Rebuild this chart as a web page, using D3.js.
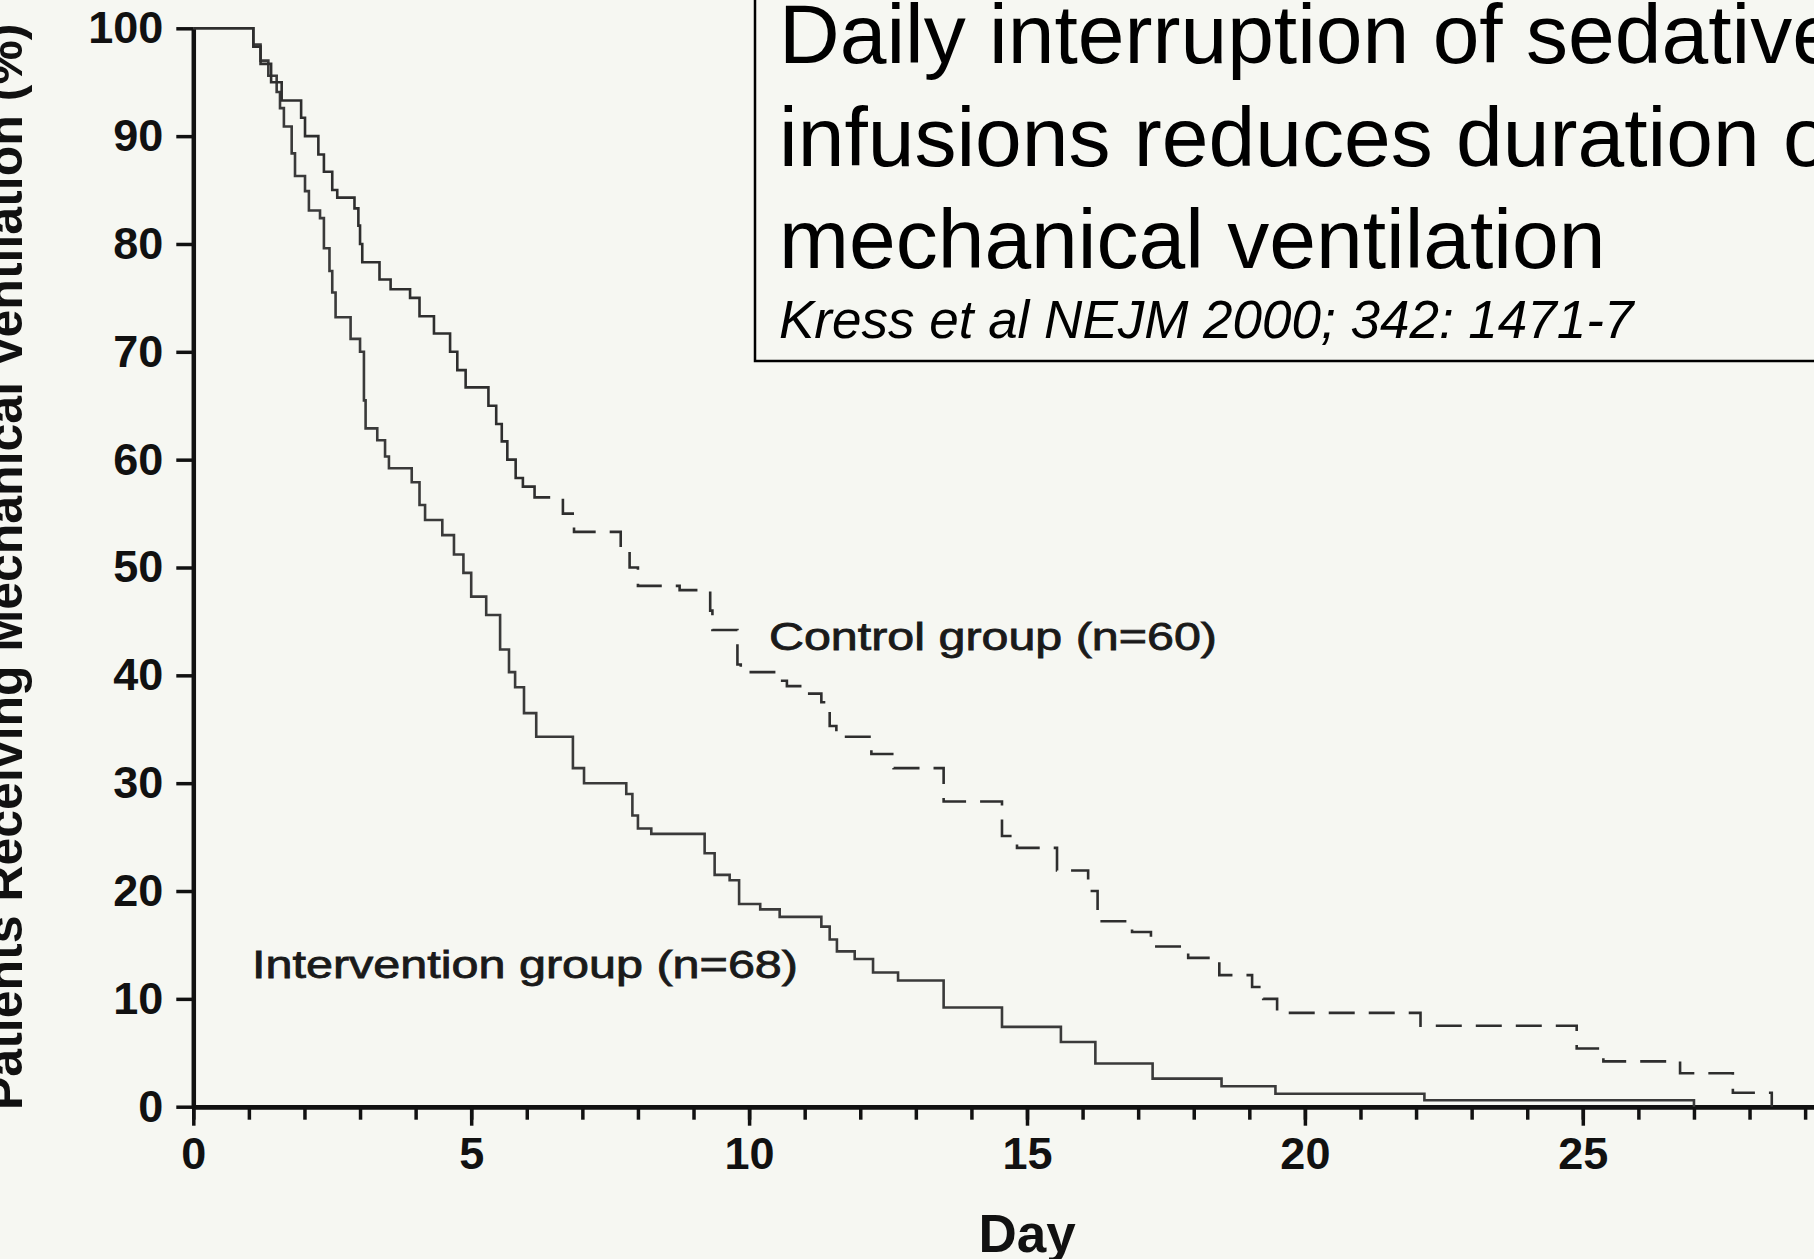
<!DOCTYPE html>
<html>
<head>
<meta charset="utf-8">
<script src="https://cdn.jsdelivr.net/npm/d3@7"></script>
<style>
  html, body { margin: 0; padding: 0; background: #f6f7f2; overflow: hidden; }
  svg { display: block; font-family: "Liberation Sans", Arial, sans-serif; }
</style>
</head>
<body>
<svg></svg>
<script>
// Kaplan-Meier style curves: day at which the % drops to the given value
let controlDays = [0, 1.08, 1.21, 1.40, 1.59, 1.94, 2.01, 2.25, 2.35, 2.50, 2.59, 2.90, 2.97, 3.00, 3.04,
  3.35, 3.55, 3.90, 4.07, 4.33, 4.62, 4.75, 4.90, 5.31, 5.45, 5.55, 5.65, 5.80, 5.93, 6.14,
  6.65, 6.85, 7.69, 7.85, 8.00, 8.75, 9.30, 9.34, 9.79, 9.85, 10.45, 10.68, 11.0, 11.3, 11.45,
  11.57, 12.2, 12.6, 13.5, 14.55, 14.82, 15.54, 16.1, 16.27, 16.89, 17.23, 17.9, 18.46, 19.05,
  19.25, 19.5, 22.08, 24.89, 25.37, 26.75, 27.7, 28.4];
let controlPct = [100, 98.3, 96.7, 95.0, 93.3, 91.7, 90.0, 88.3, 86.7, 85.0, 84.3, 83.3, 81.7, 80.0, 78.3,
  76.7, 75.8, 75.0, 73.3, 71.7, 70.0, 68.3, 66.7, 65.0, 63.3, 61.7, 60.0, 58.3, 57.5, 56.5,
  55.0, 53.3, 51.7, 50.0, 48.3, 47.9, 46.0, 44.2, 41.0, 40.3, 39.5, 39.0, 38.3, 37.5, 35.3,
  34.3, 32.7, 31.4, 28.3, 25.1, 24.0, 21.9, 20.0, 17.2, 16.2, 14.85, 13.8, 12.2, 11.1,
  10.0, 8.7, 7.5, 5.4, 4.2, 3.1, 1.3, 0];

let interventionDays = [0, 1.08, 1.21, 1.35, 1.50, 1.56, 1.63, 1.77, 1.83, 2.01, 2.08, 2.28, 2.35, 2.45,
  2.50, 2.56, 2.83, 3.00, 3.07, 3.10, 3.31, 3.45, 3.52, 3.93, 4.07, 4.17, 4.48, 4.69, 4.86, 5.00,
  5.27, 5.52, 5.68, 5.79, 5.95, 6.17, 6.83, 7.03, 7.79, 7.90, 8.00, 8.24, 9.20, 9.38, 9.65, 9.82,
  10.2, 10.55, 11.3, 11.45, 11.58, 11.9, 12.23, 12.68, 13.5, 14.55, 15.61, 16.23, 17.26, 18.5,
  19.47, 22.15, 27.0];
let interventionPct = [100, 98.5, 97.0, 95.6, 94.1, 92.6, 90.9, 88.4, 86.3, 84.9, 83.1, 82.4, 79.6, 77.5,
  75.5, 73.2, 71.2, 70.0, 65.5, 62.9, 61.8, 60.3, 59.2, 57.9, 55.8, 54.4, 53.0, 51.2, 49.5, 47.3,
  45.6, 42.4, 40.3, 38.9, 36.5, 34.3, 31.4, 30.0, 29.0, 27.0, 25.8, 25.3, 23.5, 21.5, 21.0, 18.8,
  18.3, 17.6, 16.7, 15.5, 14.4, 13.7, 12.45, 11.7, 9.2, 7.4, 6.0, 4.0, 2.6, 1.9,
  1.2, 0.6, 0];

let yTicks = [0, 10, 20, 30, 40, 50, 60, 70, 80, 90, 100];
let xMajorTicks = [0, 5, 10, 15, 20, 25];
let xMinorTicks = d3.range(0, 30, 1);

let titleLines = ['Daily interruption of sedative', 'infusions reduces duration of', 'mechanical ventilation'];
let citation = 'Kress et al NEJM 2000; 342: 1471-7';
let yTitle = 'Patients Receiving Mechanical Ventilation (%)';
let xTitle = 'Day';
let controlLabel = 'Control group (n=60)';
let interventionLabel = 'Intervention group (n=68)';

let width = 1814;
let height = 1259;
let x0 = 193.3;
let dayPx = 55.58;

let svg = d3.select('svg')
  .attr('width', width)
  .attr('height', height);

svg.append('rect')
  .attr('width', width)
  .attr('height', height)
  .attr('fill', '#f6f7f2');

let xScale = d3.scaleLinear()
  .domain([0, 29.2])
  .range([x0, x0 + 29.2 * dayPx]);

let yScale = d3.scaleLinear()
  .domain([0, 100])
  .range([1106.7, 28.3]);

// axes
let xMinor = d3.axisBottom(xScale)
  .tickValues(xMinorTicks)
  .tickSize(13)
  .tickSizeOuter(0)
  .tickFormat('');

let xMajor = d3.axisBottom(xScale)
  .tickValues(xMajorTicks)
  .tickSize(19)
  .tickSizeOuter(0)
  .tickPadding(11);

let yAxis = d3.axisLeft(yScale)
  .tickValues(yTicks)
  .tickSize(17)
  .tickSizeOuter(0)
  .tickPadding(13);

let gxMinor = svg.append('g')
  .attr('transform', 'translate(0,' + yScale(0) + ')')
  .call(xMinor);

let gx = svg.append('g')
  .attr('transform', 'translate(0,' + yScale(0) + ')')
  .call(xMajor);

let gy = svg.append('g')
  .attr('transform', 'translate(' + x0 + ',0)')
  .call(yAxis);

[gxMinor, gx, gy].forEach(g => {
  g.selectAll('.domain').attr('stroke', '#111').attr('stroke-width', 4.5);
  g.selectAll('.tick line').attr('stroke', '#111').attr('stroke-width', 3.5);
  g.selectAll('.tick text')
    .attr('fill', '#111')
    .style('font-family', '"Liberation Sans", Arial, sans-serif')
    .style('font-size', '45px')
    .style('font-weight', 'bold');
});

// curves
let line = d3.line()
  .x(d => xScale(d[0]))
  .y(d => yScale(d[1]))
  .curve(d3.curveStepAfter);

let controlData = controlDays.map((d, i) => [d, controlPct[i]]);
let interventionData = interventionDays.map((d, i) => [d, interventionPct[i]]);

let defs = svg.append('defs');
defs.append('clipPath').attr('id', 'earlyClip')
  .append('rect')
  .attr('x', 0).attr('y', 0)
  .attr('width', xScale(6.4)).attr('height', height);
defs.append('clipPath').attr('id', 'lateClip')
  .append('rect')
  .attr('x', xScale(6.4)).attr('y', 0)
  .attr('width', width).attr('height', height);

svg.append('path')
  .datum(interventionData)
  .attr('d', line)
  .attr('fill', 'none')
  .attr('stroke', '#3a3a3a')
  .attr('stroke-width', 2.6);

svg.append('path')
  .datum(controlData)
  .attr('d', line)
  .attr('clip-path', 'url(#earlyClip)')
  .attr('fill', 'none')
  .attr('stroke', '#2e2e2e')
  .attr('stroke-width', 2.6);

svg.append('path')
  .datum(controlData)
  .attr('d', line)
  .attr('clip-path', 'url(#lateClip)')
  .attr('fill', 'none')
  .attr('stroke', '#2e2e2e')
  .attr('stroke-width', 2.6)
  .attr('stroke-dasharray', '26,14');

// curve labels
svg.append('text')
  .attr('x', 769)
  .attr('y', 650)
  .attr('textLength', 448)
  .attr('lengthAdjust', 'spacingAndGlyphs')
  .style('font-size', '38px')
  .attr('fill', '#1a1a1a')
  .attr('stroke', '#1a1a1a')
  .attr('stroke-width', 0.8)
  .text(controlLabel);

svg.append('text')
  .attr('x', 252)
  .attr('y', 978)
  .attr('textLength', 546)
  .attr('lengthAdjust', 'spacingAndGlyphs')
  .style('font-size', '38px')
  .attr('fill', '#1a1a1a')
  .attr('stroke', '#1a1a1a')
  .attr('stroke-width', 0.8)
  .text(interventionLabel);

// axis titles
svg.append('text')
  .attr('x', xScale(15))
  .attr('y', 1252)
  .style('text-anchor', 'middle')
  .style('font-size', '53px')
  .style('font-weight', 'bold')
  .attr('fill', '#111')
  .text(xTitle);

svg.append('text')
  .attr('transform', 'translate(22,1110) rotate(-90)')
  .attr('x', 0)
  .attr('y', 0)
  .style('text-anchor', 'start')
  .style('font-size', '50px')
  .style('font-weight', 'bold')
  .attr('fill', '#111')
  .text(yTitle);

// title box
svg.append('rect')
  .attr('x', 755)
  .attr('y', -10)
  .attr('width', 1100)
  .attr('height', 371)
  .attr('fill', 'none')
  .attr('stroke', '#000')
  .attr('stroke-width', 2.5);

svg.selectAll('.title-line')
  .data(titleLines)
  .enter()
  .append('text')
  .attr('class', 'title-line')
  .attr('x', 779)
  .attr('y', (d, i) => 63 + i * 102.5)
  .style('font-size', '84px')
  .attr('fill', '#000')
  .text(d => d);

svg.append('text')
  .attr('x', 779)
  .attr('y', 338)
  .style('font-size', '53px')
  .style('font-style', 'italic')
  .attr('fill', '#000')
  .text(citation);
</script>
</body>
</html>
